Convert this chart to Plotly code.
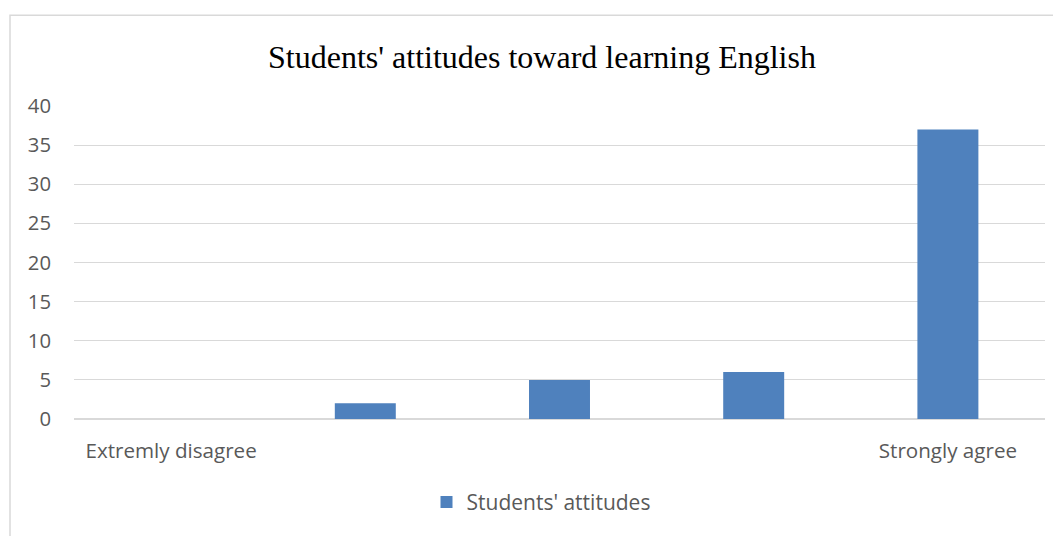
import plotly.graph_objects as go

categories = ["Extremly disagree", "Disagree", "Neutral", "Agree", "Strongly agree"]
values = [0, 2, 5, 6, 37]
tick_labels = ["Extremly disagree", "", "", "", "Strongly agree"]
series_name = "Students' attitudes"
title_text = "Students' attitudes toward learning English"

OFF = 8  # page body margin offset
W, H = 1061 - OFF, 536 - OFF
# target plot area in screen pixels: x 74..1045, y 106..419.5
L, R = 74 - OFF, 16
T, B = 106 - OFF, 536 - 419.5
pw, ph = W - L - R, H - T - B

fig = go.Figure()
fig.add_trace(go.Bar(x=categories, y=values, name=series_name,
                     marker=dict(color="#4f81bd", line=dict(width=0)),
                     showlegend=True))

def px_x(p):  # screen px -> paper
    return (p - OFF - L) / pw

def px_y(p):
    return (H - B - (p - OFF)) / ph

fig.add_shape(type="rect", xref="paper", yref="paper",
              x0=px_x(10), x1=px_x(1075), y0=px_y(560), y1=px_y(15),
              line=dict(color="#d9d9d9", width=1.5), fillcolor="rgba(0,0,0,0)", layer="below")

fig.update_layout(
    width=W, height=H,
    margin=dict(l=L, r=R, t=T, b=B, pad=0),
    paper_bgcolor="white", plot_bgcolor="white",
    bargap=0.686,
    title=dict(text=title_text, x=px_x(542), xref="paper", xanchor="center",
               y=1 - (57 - OFF) / H, yanchor="middle",
               font=dict(family="Liberation Serif, Times New Roman, serif", size=32, color="#000000")),
    font=dict(family="Open Sans, Calibri, sans-serif", size=20, color="#595959"),
    xaxis=dict(type="category", tickmode="array", tickvals=categories, ticktext=tick_labels,
               showgrid=False, showline=False, ticks="", ticklabelstandoff=17,
               tickfont=dict(size=20.6, color="#595959")),
    yaxis=dict(range=[0, 40], dtick=5, tick0=0, showgrid=True, gridcolor="#d9d9d9", gridwidth=1.3,
               zeroline=True, zerolinecolor="#d9d9d9", zerolinewidth=1.5,
               showline=False, ticks="", ticklabelstandoff=22,
               tickfont=dict(size=20.3, color="#595959")),
    legend=dict(orientation="h", x=px_x(541), xanchor="center",
                y=px_y(503), yanchor="middle",
                font=dict(size=21, color="#595959"), itemwidth=30, traceorder="normal"),
)

fig.write_html("out.html")
